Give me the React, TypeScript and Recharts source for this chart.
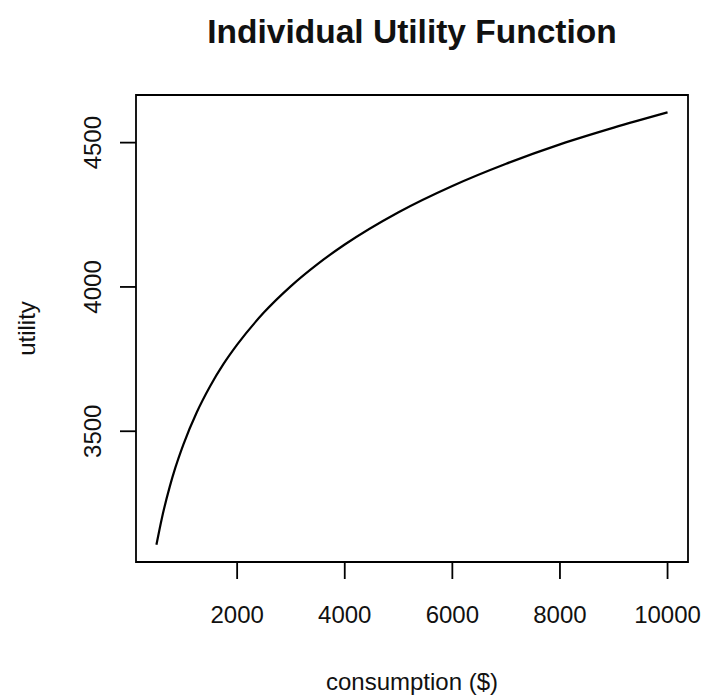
import React from 'react';
import { LineChart, Line, XAxis, YAxis, ReferenceArea } from 'recharts';

// consumption ($) and utility
const consumption = [500, 600, 750, 850, 1000, 1250, 1500, 1750, 2000, 2500, 3000, 3500, 4000, 5000, 6000, 7000, 8000, 9000, 10000];
const utility = [3107, 3198, 3310, 3373, 3454, 3566, 3657, 3734, 3800, 3912, 4003, 4080, 4147, 4259, 4350, 4427, 4494, 4552, 4605];

const xTicks = [2000, 4000, 6000, 8000, 10000];
const yTicks = [3500, 4000, 4500];
const xDomain = [120, 10380];
const yDomain = [3047, 4665];

const data = consumption.map((c, i) => ({ consumption: c, utility: utility[i] }));

const FONT = '"Liberation Sans", Arial, sans-serif';

const YTick = (props: any) => {
  const { x, y, payload } = props;
  return (
    <text
      x={x}
      y={y}
      transform={`rotate(-90, ${x}, ${y})`}
      textAnchor="middle"
      fontSize={24}
      fontFamily={FONT}
      fill="#111"
    >
      {payload.value}
    </text>
  );
};

const YLabel = (props: any) => {
  const { viewBox } = props;
  const x = viewBox.x + 27;
  const y = 87 + (554 - 87) / 2;
  return (
    <text x={x} y={y} transform={`rotate(-90, ${x}, ${y})`} textAnchor="middle" fontSize={24} fontFamily={FONT} fill="#111">
      utility
    </text>
  );
};

const XLabel = (props: any) => {
  const { viewBox } = props;
  return (
    <text x={128 + (680 - 128) / 2} y={viewBox.y + 128} textAnchor="middle" fontSize={24} fontFamily={FONT} fill="#111">
      consumption ($)
    </text>
  );
};

export default function App() {
  return (
    <div style={{ position: 'relative', width: 701, height: 692 }}>
      <div
        style={{
          position: 'absolute',
          left: 128,
          width: 552,
          top: 5,
          textAlign: 'center',
          fontFamily: FONT,
          fontWeight: 'bold',
          fontSize: 33.5,
          color: '#111',
        }}
      >
        Individual Utility Function
      </div>
      <LineChart width={701} height={692} data={data} margin={{ top: 87, right: 21, left: 0, bottom: 0 }}>
        <XAxis
          dataKey="consumption"
          type="number"
          domain={xDomain}
          ticks={xTicks}
          allowDataOverflow
          height={138}
          axisLine={false}
          tickSize={17}
          tickMargin={27}
          tickLine={{ stroke: '#000', strokeWidth: 1.8 }}
          tick={{ fontSize: 24, fontFamily: FONT, fill: '#111' }}
          label={<XLabel />}
        />
        <YAxis
          type="number"
          domain={yDomain}
          ticks={yTicks}
          allowDataOverflow
          width={128}
          axisLine={false}
          tickSize={16}
          tickMargin={19}
          tickLine={{ stroke: '#000', strokeWidth: 1.8 }}
          tick={<YTick />}
          label={<YLabel />}
        />
        <ReferenceArea
          x1={xDomain[0]}
          x2={xDomain[1]}
          y1={yDomain[0]}
          y2={yDomain[1]}
          fill="none"
          stroke="#000"
          strokeWidth={1.8}
        />
        <Line
          type="monotone"
          dataKey="utility"
          stroke="#000"
          strokeWidth={2.2}
          dot={false}
          isAnimationActive={false}
        />
      </LineChart>
    </div>
  );
}
